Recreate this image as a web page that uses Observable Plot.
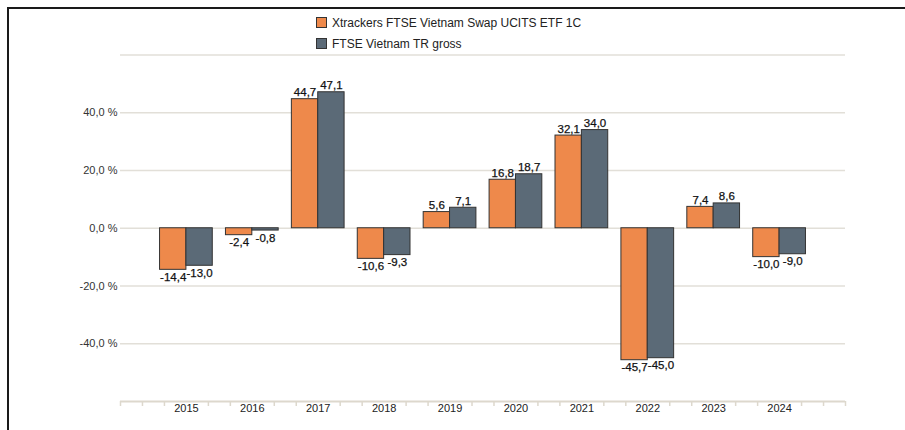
<!DOCTYPE html>
<html>
<head>
<meta charset="utf-8">
<script src="https://cdn.jsdelivr.net/npm/d3@7"></script>
<script src="https://cdn.jsdelivr.net/npm/@observablehq/plot@0.6"></script>
<style>
  html, body { margin: 0; padding: 0; background: #fff; }
  #wrap { position: relative; width: 905px; height: 430px; overflow: hidden; font-family: "Liberation Sans", Arial, sans-serif; }
  #frame { position: absolute; left: 7px; top: 7px; right: -5px; bottom: -5px; border-left: 2px solid #1a1a1a; border-top: 2px solid #1a1a1a; pointer-events: none; }
  #legend { position: absolute; left: 316px; top: 12px; font-size: 12px; color: #222; }
  .row { display: flex; align-items: center; height: 21px; }
  .sw { width: 9px; height: 9px; border: 1px solid #333; margin-right: 5px; }
  #chart { position: absolute; left: 0; top: 0; }
</style>
</head>
<body>
<div id="wrap">
  <div id="chart"></div>
  <div id="frame"></div>
  <div id="legend"></div>
</div>
<script>
const years = [2015, 2016, 2017, 2018, 2019, 2020, 2021, 2022, 2023, 2024];
const seriesNames = ["Xtrackers FTSE Vietnam Swap UCITS ETF 1C", "FTSE Vietnam TR gross"];
const etfValues = [-14.4, -2.4, 44.7, -10.6, 5.6, 16.8, 32.1, -45.7, 7.4, -10.0];
const indexValues = [-13.0, -0.8, 47.1, -9.3, 7.1, 18.7, 34.0, -45.0, 8.6, -9.0];
const yTickLabels = [-40, -20, 0, 20, 40];
const colors = ["#ee894b", "#5b6a77"];

const data = [];
years.forEach((yr, i) => {
  data.push({year: yr, series: seriesNames[0], value: etfValues[i], x1: yr - 0.4, x2: yr, xc: yr - 0.2});
  data.push({year: yr, series: seriesNames[1], value: indexValues[i], x1: yr, x2: yr + 0.4, xc: yr + 0.2});
});

// minor axis ticks every third of a year, skipping the labelled year positions
const minorTicks = d3.range(2014 * 3, 2025 * 3 + 1)
  .filter(k => !(k % 3 === 0 && years.includes(k / 3)))
  .map(k => k / 3);
const fmt = v => v.toFixed(1).replace(".", ",");

const chart = Plot.plot({
  width: 905,
  height: 430,
  marginLeft: 120,
  marginRight: 60,
  marginTop: 54.5,
  marginBottom: 29,
  style: {fontFamily: "Liberation Sans, Arial, sans-serif", background: "transparent"},
  x: {type: "linear", domain: [2014, 2025], axis: null},
  y: {domain: [-60, 60], axis: null},
  color: {domain: seriesNames, range: colors},
  marks: [
    Plot.ruleY([-40, -20, 0, 20, 40, 60], {stroke: "#e2dfd8", strokeWidth: 1.5}),
    Plot.axisY(yTickLabels, {tickSize: 0, tickPadding: 3, label: null, tickFormat: v => fmt(v) + " %", fontSize: 11, fill: "#333", anchor: "left"}),
    Plot.rectY(data, {x1: "x1", x2: "x2", y1: 0, y2: "value", fill: "series", stroke: "#333", strokeWidth: 1}),
    Plot.text(data.filter(d => d.value >= 0), {x: "xc", y: "value", text: d => fmt(d.value), lineAnchor: "bottom", dy: -3, fontSize: 11.5, fill: "#111", stroke: "#111", strokeWidth: 0.25}),
    Plot.text(data.filter(d => d.value < 0), {x: "xc", y: "value", text: d => fmt(d.value), lineAnchor: "top", dy: 3, fontSize: 11.5, fill: "#111", stroke: "#111", strokeWidth: 0.25}),
    Plot.ruleY([-60], {stroke: "#ddd8cd", strokeWidth: 2}),
    Plot.axisX(minorTicks, {anchor: "bottom", label: null, tickSize: 5, tickFormat: () => "", stroke: "#ddd8cd", strokeWidth: 1.5}),
    Plot.axisX(years, {anchor: "bottom", label: null, tickSize: 0, tickPadding: 3, tickFormat: d => String(d), fontSize: 11, fill: "#222"})
  ]
});
document.getElementById("chart").appendChild(chart);

const legend = document.getElementById("legend");
seriesNames.forEach((name, i) => {
  const row = document.createElement("div");
  row.className = "row";
  const sw = document.createElement("span");
  sw.className = "sw";
  sw.style.background = colors[i];
  const t = document.createElement("span");
  t.textContent = name;
  row.appendChild(sw);
  row.appendChild(t);
  legend.appendChild(row);
});
</script>
</body>
</html>
